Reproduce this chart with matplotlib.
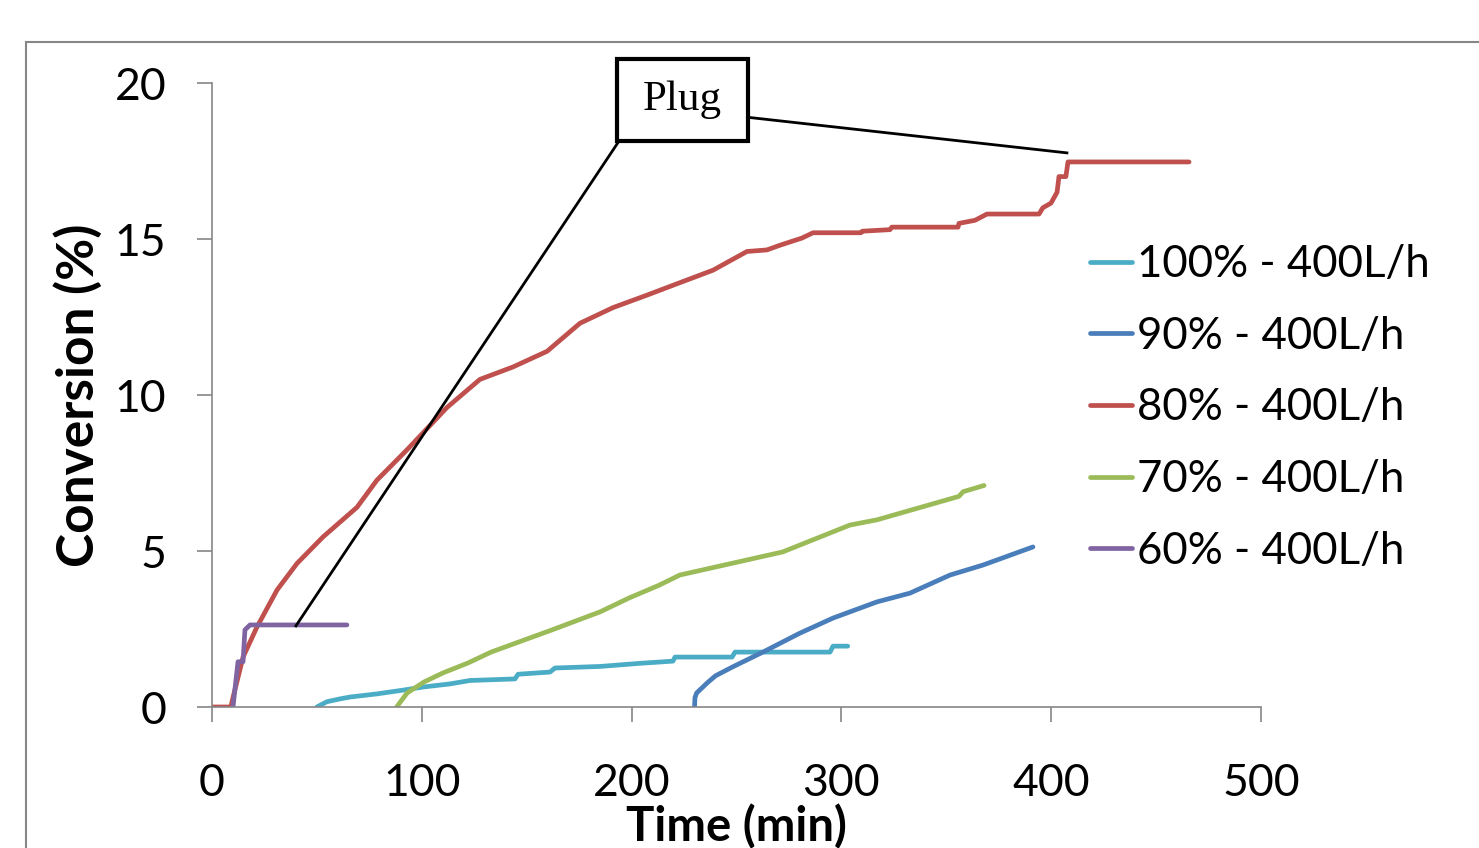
import matplotlib as mat
mat.use('Agg')
import matplotlib.pyplot as plt
from matplotlib.patches import Rectangle

# series (time in min, conversion in %)
t100 = [50, 54.8, 61, 65.8, 78.6, 91, 100.6, 113.4, 123, 144.4, 145.9, 161.1, 163.5, 185, 204,
        219.7, 220.7, 247.9, 249.3, 294.6, 296, 303]
c100 = [0, 0.17, 0.26, 0.32, 0.42, 0.54, 0.64, 0.74, 0.85, 0.9, 1.05, 1.12, 1.25, 1.3, 1.4,
        1.47, 1.6, 1.6, 1.76, 1.76, 1.95, 1.95]

t90 = [230, 230.2, 231, 236, 240, 248, 262.6, 280, 296, 317, 332.7, 351.8, 367.5, 391.3]
c90 = [0, 0.3, 0.45, 0.77, 1.0, 1.28, 1.76, 2.36, 2.85, 3.37, 3.65, 4.23, 4.55, 5.13]

t80 = [0, 9, 10, 14.8, 21.4, 31, 40.5, 52.9, 69.1, 78.6, 92.9, 112, 127.7, 143.5, 159.7, 175.4,
       191.1, 207.3, 223, 238.8, 255, 264.5, 270.7, 281.2, 286.5, 309.3, 310, 323.2, 324,
       355.6, 356, 363.7, 369.4, 394.2, 396, 399.9, 402.8, 403.7, 407, 408, 465.7]
c80 = [0, 0, 0.3, 1.6, 2.56, 3.75, 4.6, 5.45, 6.4, 7.27, 8.24, 9.6, 10.5, 10.9, 11.4, 12.3,
       12.8, 13.2, 13.6, 14.0, 14.6, 14.65, 14.8, 15.03, 15.2, 15.2, 15.25, 15.3, 15.38,
       15.38, 15.5, 15.6, 15.8, 15.8, 16.0, 16.15, 16.5, 17.0, 17.0, 17.47, 17.47]

t70 = [88, 93, 101, 110, 122, 133, 162, 185, 199, 213, 223, 272, 304, 317, 356, 358, 368]
c70 = [0, 0.45, 0.8, 1.09, 1.41, 1.76, 2.47, 3.05, 3.5, 3.9, 4.23, 4.97, 5.83, 6.0, 6.75, 6.9, 7.1]

t60 = [10, 12.4, 14.8, 15.7, 18.1, 64.3]
c60 = [0, 1.45, 1.45, 2.47, 2.63, 2.63]

labels = ['100% - 400L/h', '90% - 400L/h', '80% - 400L/h', '70% - 400L/h', '60% - 400L/h']
colors = ['#4BACC6', '#4A7EBB', '#C0504D', '#9BBB59', '#8064A2']

plt.rcParams['font.family'] = ['Lato', 'DejaVu Sans']

fig = plt.figure(figsize=(14.79, 8.48), dpi=100)
ax = fig.add_axes([212 / 1479, 141 / 848, 1049 / 1479, 624 / 848])

series = [(t100, c100), (t90, c90), (t80, c80), (t70, c70), (t60, c60)]
for (t, c), lab, col in zip(series, labels, colors):
    ax.plot(t, c, color=col, lw=3.4, label=lab, solid_capstyle='round')

ax.set_xlim(0, 500)
ax.set_ylim(0, 20)
ax.set_xticks([0, 100, 200, 300, 400, 500])
ax.set_yticks([0, 5, 10, 15, 20])

grey = '#868686'
for s in ['top', 'right']:
    ax.spines[s].set_visible(False)
for s in ['left', 'bottom']:
    ax.spines[s].set_color(grey)
    ax.spines[s].set_linewidth(1.2)
ax.tick_params(axis='both', direction='out', length=11, width=1.2, color=grey, labelsize=32)
ax.tick_params(axis='y', pad=22)
ax.tick_params(axis='x', pad=29)

ax.set_xlabel('Time (min)', fontsize=34, fontweight='bold')
ax.set_ylabel('Conversion (%)', fontsize=37, fontweight='bold')
ax.xaxis.set_label_coords(0.5, -0.155)
ax.yaxis.set_label_coords(-0.104, 0.5)

# "Plug" callout
box = Rectangle((193, 18.14), 62.5, 2.63, fill=True, fc='white', ec='black', lw=3,
                clip_on=False, zorder=5)
ax.add_patch(box)
ax.text(224.2, 19.45, 'Plug', ha='center', va='center', fontsize=31,
        family='Liberation Serif', zorder=6)
ax.plot([194, 40], [18.14, 2.6], color='black', lw=2, clip_on=False, zorder=4)
ax.plot([255.5, 407.5], [18.9, 17.76], color='black', lw=2, clip_on=False, zorder=4)

ax.legend(loc='upper left', bbox_to_anchor=(1090 / 1479, 1 - 244 / 848),
          bbox_transform=fig.transFigure, frameon=False, fontsize=31.5,
          handlelength=0.95, handletextpad=0.12, labelspacing=0.7, borderpad=0,
          borderaxespad=0)

# outer chart-area border
fig.add_artist(Rectangle((26 / 1479, -0.05), 1.2, 1 - 42 / 848 + 0.05, fill=False,
                         ec=grey, lw=1.5, transform=fig.transFigure))

fig.savefig('out.png', dpi=100)
